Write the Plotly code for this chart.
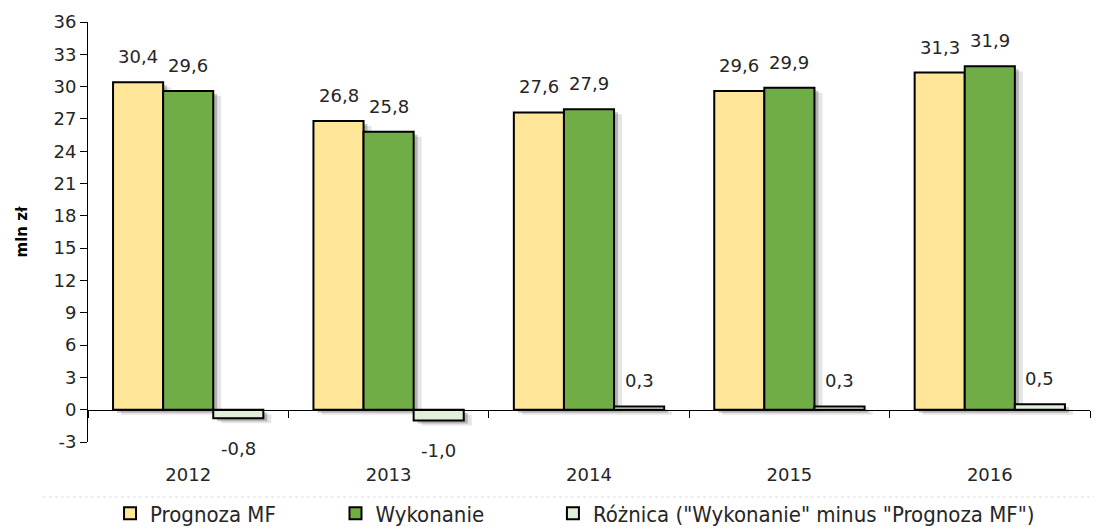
import plotly.graph_objects as go

years = ['2012', '2013', '2014', '2015', '2016']
prognoza = [30.4, 26.8, 27.6, 29.6, 31.3]
wykonanie = [29.6, 25.8, 27.9, 29.9, 31.9]
roznica = [-0.8, -1.0, 0.3, 0.3, 0.5]

x = list(range(len(years)))
y_ticks = list(range(-3, 37, 3))
num_font = dict(family='DejaVu Sans', size=18, color='#262626')
bar_w = 0.25  # each bar's share of a category (bargap 0.25, 3 bars)

W, H = 1094, 522
M = dict(l=80, r=12, t=14, b=88)
plot_w = W - M['l'] - M['r']
plot_h = H - M['t'] - M['b']
x_rng = [-0.5, len(years) - 0.5]
y_rng = [-3, 36]

series = [
    ('Prognoza MF', prognoza, '#FFE699', 'legend', 0.022),
    ('Wykonanie', wykonanie, '#70AD47', 'legend2', 0.247),
    ('Różnica ("Wykonanie" minus "Prognoza MF")', roznica, '#E2EFDA', 'legend3', 0.464),
]

fig = go.Figure()

# soft drop shadows: same bars on hidden axes shifted right/down by a few px
shadow_layers = [('', 8, 5, 'rgba(0,0,0,0.10)'), ('2', 4, 3, 'rgba(0,0,0,0.22)')]
hidden = dict(visible=False, showgrid=False, zeroline=False, fixedrange=True)
layout_axes = {}
for sfx, dxp, dyp, shade in shadow_layers:
    dx, dy = dxp / plot_w, dyp / plot_h
    layout_axes['xaxis' + sfx] = dict(hidden, domain=[dx, 1], anchor='y' + sfx,
                                      range=[x_rng[0], x_rng[1] - (x_rng[1] - x_rng[0]) * dx])
    layout_axes['yaxis' + sfx] = dict(hidden, domain=[0, 1 - dy], anchor='x' + sfx,
                                      range=[y_rng[0] + (y_rng[1] - y_rng[0]) * dy, y_rng[1]])
    for name, vals, col, leg, lx in series:
        fig.add_trace(go.Bar(x=x, y=vals, xaxis='x' + sfx, yaxis='y' + sfx,
                             marker=dict(color=shade, line=dict(width=0)),
                             showlegend=False, hoverinfo='skip'))

annotations = []
legends = {}
for k, (name, vals, col, leg, lx) in enumerate(series):
    fig.add_trace(go.Bar(
        x=x, y=vals, name=name, legend=leg, xaxis='x3', yaxis='y3',
        marker=dict(color=col, line=dict(color='black', width=2)),
        hoverinfo='y',
    ))
    offset = (k - 1) * bar_w
    for xi, v in zip(x, vals):
        pos = v >= 0
        annotations.append(dict(
            x=xi + offset, y=v, xref='x3', yref='y3',
            text=f'{v:.1f}'.replace('.', ','), showarrow=False,
            yanchor='bottom' if pos else 'top', yshift=13 if pos else -18,
            font=num_font,
        ))
    legends[leg] = dict(orientation='h', x=lx, y=-0.12, xanchor='left', yanchor='top',
                        font=dict(family='DejaVu Sans Condensed', size=22, color='#262626'),
                        bgcolor='rgba(0,0,0,0)')

fig.update_layout(
    width=W, height=H,
    paper_bgcolor='white', plot_bgcolor='rgba(0,0,0,0)',
    margin=dict(M, autoexpand=False),
    barmode='group', bargap=0.25, bargroupgap=0,
    showlegend=True,
    annotations=annotations,
    shapes=[dict(type='line', xref='paper', yref='paper', x0=-0.045, x1=1.01, y0=-0.131, y1=-0.131,
                 line=dict(color='#DDDDDD', width=1, dash='dot'))],
    xaxis3=dict(range=x_rng, tickvals=x, ticktext=years, anchor='y3',
                showline=False, showgrid=False, zeroline=False, ticks='',
                ticklabelstandoff=20, tickfont=dict(family='DejaVu Sans', size=18, color='#262626')),
    xaxis4=dict(overlaying='x3', anchor='free', position=3 / 39,
                range=x_rng, tickvals=[i - 0.5 for i in range(len(years) + 1)],
                showticklabels=False, ticks='outside', ticklen=7, tickcolor='black',
                showline=True, linecolor='black', linewidth=1, showgrid=False, zeroline=False),
    yaxis3=dict(range=y_rng, tickvals=y_ticks, ticktext=[str(t) for t in y_ticks], anchor='x3',
                showline=True, linecolor='black',
                ticks='outside', ticklen=7, tickcolor='black', showgrid=False,
                zeroline=False, tickfont=num_font,
                title=dict(text='<b>mln zł</b>', font=dict(family='DejaVu Sans', size=15, color='black'),
                           standoff=22)),
    **layout_axes,
    **legends,
)
# empty trace so xaxis4 (the line at zero) is drawn
fig.add_trace(go.Scatter(x=[None], y=[None], xaxis='x4', yaxis='y3', showlegend=False, hoverinfo='skip'))

fig.write_html('out.html')
